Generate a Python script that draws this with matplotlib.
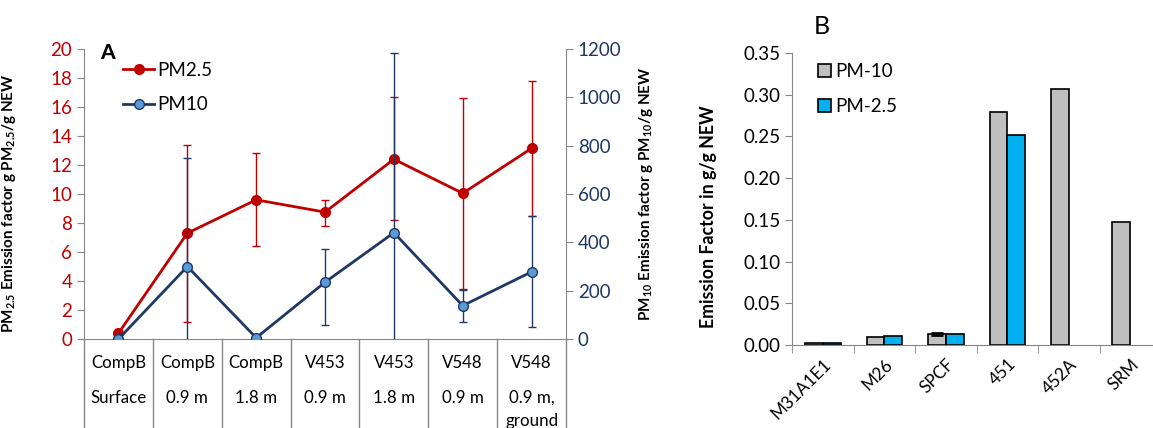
import matplotlib.pyplot as plt
from matplotlib.transforms import blended_transform_factory
from matplotlib.ticker import FormatStrFormatter
import numpy as np

plt.rcParams['font.family'] = ['Lato', 'DejaVu Sans']
plt.rcParams['mathtext.fontset'] = 'custom'
plt.rcParams['mathtext.rm'] = 'Lato'
plt.rcParams['mathtext.bf'] = 'Lato:bold'

# panel A data
sites = ["CompB", "CompB", "CompB", "V453", "V453", "V548", "V548"]
depths = ["Surface", "0.9 m", "1.8 m", "0.9 m", "1.8 m", "0.9 m", "0.9 m,\nground"]

pm25 = [0.4, 7.3, 9.6, 8.75, 12.4, 10.05, 13.15]
pm25_lo = [0.4, 1.15, 6.4, 7.8, 8.2, 3.45, 8.5]
pm25_hi = [0.4, 13.4, 12.85, 9.6, 16.7, 16.65, 17.8]

pm10 = [0, 300, 5, 235, 440, 138, 278]
pm10_lo = [0, -150, 5, 58, -150, 70, 48]
pm10_hi = [0, 748, 5, 372, 1182, 204, 510]

# panel B data
cats = ["M31A1E1", "M26", "SPCF", "451", "452A", "SRM"]
pm10_ef = [0.002, 0.009, 0.013, 0.279, 0.307, 0.148]
pm25_ef = [0.002, 0.011, 0.013, 0.252, np.nan, np.nan]
pm10_ef_err = [0, 0, 0.0015, 0, 0, 0]

red = '#C00000'
navy = '#1F3864'
light = '#5B9BD5'
gray = '#868686'
fs = 13.5

fig = plt.figure(figsize=(11.53, 4.28), dpi=100)

# ---- panel A ----
ax = fig.add_axes([0.0729, 0.2079, 0.418, 0.6776])
ax2 = ax.twinx()
x = np.arange(len(sites))

p25 = np.array(pm25)
err25 = [p25 - np.array(pm25_lo), np.array(pm25_hi) - p25]
p10 = np.array(pm10)
err10 = [p10 - np.array(pm10_lo), np.array(pm10_hi) - p10]

ax.errorbar(x, pm25, yerr=err25, fmt='none', ecolor=red, elinewidth=1, capsize=3)
l1, = ax.plot(x, pm25, color=red, lw=2, marker='o', ms=7, mfc=red, mec=red, label='PM2.5')
ax2.errorbar(x, pm10, yerr=err10, fmt='none', ecolor=navy, elinewidth=1, capsize=3)
l2, = ax2.plot(x, pm10, color=navy, lw=2, marker='o', ms=7, mfc=light, mec=navy, mew=1, label='PM10')

ax.set_xlim(-0.5, len(sites) - 0.5)
ax.set_ylim(0, 20)
ax.set_yticks(range(0, 21, 2))
ax2.set_ylim(0, 1200)
ax2.set_yticks(range(0, 1201, 200))
ax.set_xticks([])

for s in ['top', 'right']:
    ax.spines[s].set_visible(False)
for s in ['top', 'left', 'bottom']:
    ax2.spines[s].set_visible(False)
ax.spines['left'].set_color(gray)
ax.spines['bottom'].set_color(gray)
ax2.spines['right'].set_color(gray)
ax.tick_params(axis='y', labelcolor=red, color=gray, labelsize=fs, length=5)
ax2.tick_params(axis='y', labelcolor=navy, color=gray, labelsize=fs, length=5)

ax.set_ylabel(r"PM$_{\mathbf{2.5}}$ Emission factor g PM$_{\mathbf{2.5}}$/g NEW",
              fontweight='bold', fontsize=11)
ax.yaxis.set_label_coords(-0.137, 0.47)
ax2.set_ylabel(r"PM$_{\mathbf{10}}$ Emission factor g PM$_{\mathbf{10}}$/g NEW",
               fontweight='bold', fontsize=11, rotation=90)
ax2.yaxis.set_label_coords(1.147, 0.5)

# category table under the axis
trans = blended_transform_factory(ax.transData, ax.transAxes)
for b in np.arange(-0.5, len(sites), 1):
    ax.plot([b, b], [0, -0.32], transform=trans, color=gray, lw=1, clip_on=False)
for i in range(len(sites)):
    ax.text(x[i], -0.083, sites[i], transform=trans, ha='center', va='center', fontsize=12.2)
    for k, line in enumerate(depths[i].split('\n')):
        ax.text(x[i], -0.203 - k * 0.079, line, transform=trans, ha='center', va='center', fontsize=12.2)

ax2.legend(handles=[l1, l2], loc='upper left', bbox_to_anchor=(0.045, 1.015), frameon=False,
           fontsize=fs, handlelength=1.7, labelspacing=0.95, handletextpad=0.15)
ax.text(0.033, 1.02, "A", transform=ax.transAxes, fontsize=15, fontweight='black', va='top')

# ---- panel B ----
axb = fig.add_axes([0.687, 0.194, 0.320, 0.682])
xb = np.arange(len(cats))
w = 0.29
axb.bar(xb - w / 2, pm10_ef, w, color='#C0C0C0', edgecolor='black', lw=1.2, label='PM-10')
axb.bar(xb + w / 2, pm25_ef, w, color='#00B0F0', edgecolor='black', lw=1.2, label='PM-2.5')
idx = [i for i, e in enumerate(pm10_ef_err) if e > 0]
axb.errorbar(xb[idx] - w / 2, [pm10_ef[i] for i in idx], yerr=[pm10_ef_err[i] for i in idx],
             fmt='none', ecolor='black', elinewidth=1.5, capsize=4, capthick=2)

axb.set_xlim(-0.5, len(cats) - 0.5)
axb.set_ylim(0, 0.35)
axb.set_yticks(np.arange(0, 0.351, 0.05))
axb.yaxis.set_major_formatter(FormatStrFormatter('%.2f'))
axb.set_xticks(xb)
axb.set_xticklabels(cats, rotation=45, ha='right', va='top', rotation_mode='anchor', fontsize=12.3)
axb.set_xticks(np.arange(-0.5, len(cats), 1), minor=True)
axb.tick_params(axis='x', which='major', length=0, pad=8)
axb.tick_params(axis='x', which='minor', length=6, color=gray)
axb.tick_params(axis='y', labelsize=fs, color=gray, length=5)
for s in ['top', 'right']:
    axb.spines[s].set_visible(False)
axb.spines['left'].set_color(gray)
axb.spines['bottom'].set_color(gray)
axb.set_ylabel("Emission Factor in g/g NEW", fontweight='bold', fontsize=12.8)
axb.yaxis.set_label_coords(-0.203, 0.44)
axb.legend(loc='upper left', bbox_to_anchor=(0.025, 1.025), frameon=False, fontsize=fs,
           handlelength=0.7, handleheight=0.7, labelspacing=1.0, handletextpad=0.2)
fig.text(822 / 1153, 1 - 26 / 428, "B", fontsize=18, ha='center', va='center')

fig.savefig('out.png', dpi=100)
